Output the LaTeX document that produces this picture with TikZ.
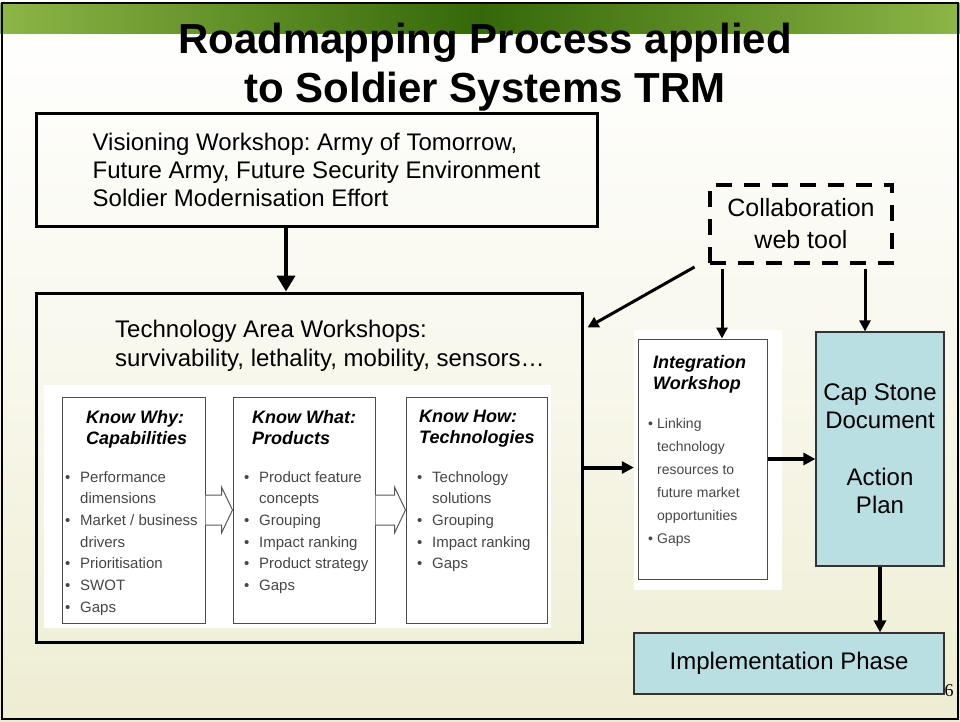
\documentclass[tikz,border=0pt]{standalone}
\usepackage{fontspec}
\setmainfont{Liberation Sans}
\newfontfamily\serifnum{Liberation Serif}
\usetikzlibrary{arrows.meta,calc}
\definecolor{bandhell}{RGB}{140,182,70}
\definecolor{banddunkel}{RGB}{52,104,8}
\definecolor{grund}{RGB}{238,237,210}
\definecolor{kapsel}{RGB}{186,223,227}
\definecolor{grautext}{RGB}{70,70,70}
\newcommand\pkt[1][15pt]{\makebox[#1][l]{\textbullet}}
\newcommand\ein[1][15pt]{\hspace*{#1}}
\frenchspacing

\begin{document}
\begin{tikzpicture}[x=1pt,y=-1pt,
  rahmen/.style={draw,line width=3pt,inner sep=0pt},
  kasten/.style={draw=black!70,line width=1pt,fill=white,inner sep=0pt,minimum height=226pt},
  kopf/.style={anchor=north west,inner sep=0pt,align=left,font=\fontsize{18}{21}\selectfont\bfseries\itshape},
  liste/.style={anchor=north west,inner sep=0pt,align=left,text=grautext,font=\fontsize{15}{21.7}\selectfont},
  blau/.style={draw=black!80,line width=1.2pt,fill=kapsel,inner sep=0pt,align=center,font=\fontsize{24}{28.3}\selectfont},
  pfeil/.style={-{Triangle[length=12pt,width=12pt]},line width=4pt},
  duenn/.style={-{Triangle[length=11pt,width=11pt]},line width=3pt,shorten <=4pt},
  hohl/.style={draw=black!65,line width=1pt,fill=white,line join=miter}]
\def\hohlpfeil#1#2{\draw[hohl] ([yshift=15pt]#1.east) -- ([xshift=-11pt,yshift=15pt]#2.west) -- ([xshift=-11pt,yshift=23pt]#2.west) -- (#2.west) -- ([xshift=-11pt,yshift=-23pt]#2.west) -- ([xshift=-11pt,yshift=-15pt]#2.west) -- ([yshift=-15pt]#1.east);}
\useasboundingbox (0,0) rectangle (960,721);
\shade[top color=white,bottom color=grund,middle color=white!60!grund] (0,0) rectangle (960,721);
\shade[left color=bandhell,right color=bandhell,middle color=banddunkel] (0,3) rectangle (960,33);
\draw[line width=2.5pt] (2,3) rectangle (958,719);

\node[align=center,inner sep=0pt,font=\fontsize{42}{49}\selectfont\bfseries] at (485,67) (titel) {Roadmapping Process applied\\to Soldier Systems TRM};

\node[rahmen,minimum width=561pt,minimum height=113pt,align=left,font=\fontsize{24}{28}\selectfont] at (316.5,169.5) (vision) {Visioning Workshop: Army of Tomorrow,\\Future Army, Future Security Environment\\Soldier Modernisation Effort};

\node[rahmen,minimum width=546pt,minimum height=349pt] at (309,467.5) (techarea) {};
\node[anchor=north west,inner sep=0pt,align=left,font=\fontsize{24}{29}\selectfont] at (115,319.5) (techtitel) {Technology Area Workshops:\\survivability, lethality, mobility, sensors…};

\node[fill=white,inner sep=0pt,minimum width=507pt,minimum height=243pt] at (297.5,506.5) (bildfeld) {};
\node[kasten,minimum width=143pt] at (133.5,510) (warum) {};
\node[kasten,minimum width=142pt] at (304,510) (was) {};
\node[kasten,minimum width=141pt] at (476.5,510) (wie) {};
\node[kopf] at (86,410) (warumkopf) {Know Why:\\Capabilities};
\node[kopf] at (252,410) (waskopf) {Know What:\\Products};
\node[kopf] at (419,410) (wiekopf) {Know How:\\Technologies};
\node[liste] at (65,471) (warumliste) {\pkt Performance\\\ein dimensions\\\pkt Market / business\\\ein drivers\\\pkt Prioritisation\\\pkt SWOT\\\pkt Gaps};
\node[liste] at (244,471) (wasliste) {\pkt Product feature\\\ein concepts\\\pkt Grouping\\\pkt Impact ranking\\\pkt Product strategy\\\pkt Gaps};
\node[liste] at (417,471) (wieliste) {\pkt Technology\\\ein solutions\\\pkt Grouping\\\pkt Impact ranking\\\pkt Gaps};
\hohlpfeil{warum}{was}
\hohlpfeil{was}{wie}

\node[fill=white,inner sep=0pt,minimum width=148pt,minimum height=260pt] at (708,460) (integfeld) {};
\node[draw=black!70,line width=1pt,fill=white,inner sep=0pt,minimum width=129pt,minimum height=240pt] at (702.5,459) (integ) {};
\node[kopf] at (653,355) (integkopf) {Integration\\Workshop};
\node[liste,font=\fontsize{14}{23}\selectfont] at (648,418) (integliste) {\pkt[9pt]Linking\\\ein[9pt]technology\\\ein[9pt]resources to\\\ein[9pt]future market\\\ein[9pt]opportunities\\\pkt[9pt]Gaps};

\node[blau,minimum width=128pt,minimum height=234pt] at (880,449) (capstone) {Cap Stone\\Document\\[28.3pt]Action\\Plan};
\node[blau,minimum width=310pt,minimum height=61pt] at (789,663.5) (umsetzung) {Implementation Phase};
\node[draw,line width=4pt,dash pattern=on 16pt off 12pt,inner sep=0pt,minimum width=182pt,minimum height=78pt,align=center,font=\fontsize{25}{32}\selectfont] at (801,224) (webtool) {Collaboration\\web tool};
\node[inner sep=0pt,font=\serifnum\fontsize{18}{18}\selectfont] at (949,691) (seite) {6};

\coordinate (vx) at (286,0);
\coordinate (wx) at (722,0);
\coordinate (kx) at (865,0);
\draw[pfeil,-{Triangle[length=16pt,width=18pt]}] (vision.south -| vx) -- (techarea.north -| vx);
\draw[pfeil] (techarea.east) -- (integfeld.west |- techarea.east);
\draw[pfeil] (integ.east) -- (capstone.west |- integ.east);
\draw[pfeil] (capstone.south) -- (umsetzung.north -| capstone.south);
\draw[duenn] (webtool.south -| wx) -- (integ.north -| wx);
\draw[duenn] (webtool.south -| kx) -- (capstone.north -| kx);
\draw[duenn] ([xshift=-10pt]webtool.south west) -- ([xshift=4pt,yshift=-36pt]techarea.north east);
\end{tikzpicture}
\end{document}
